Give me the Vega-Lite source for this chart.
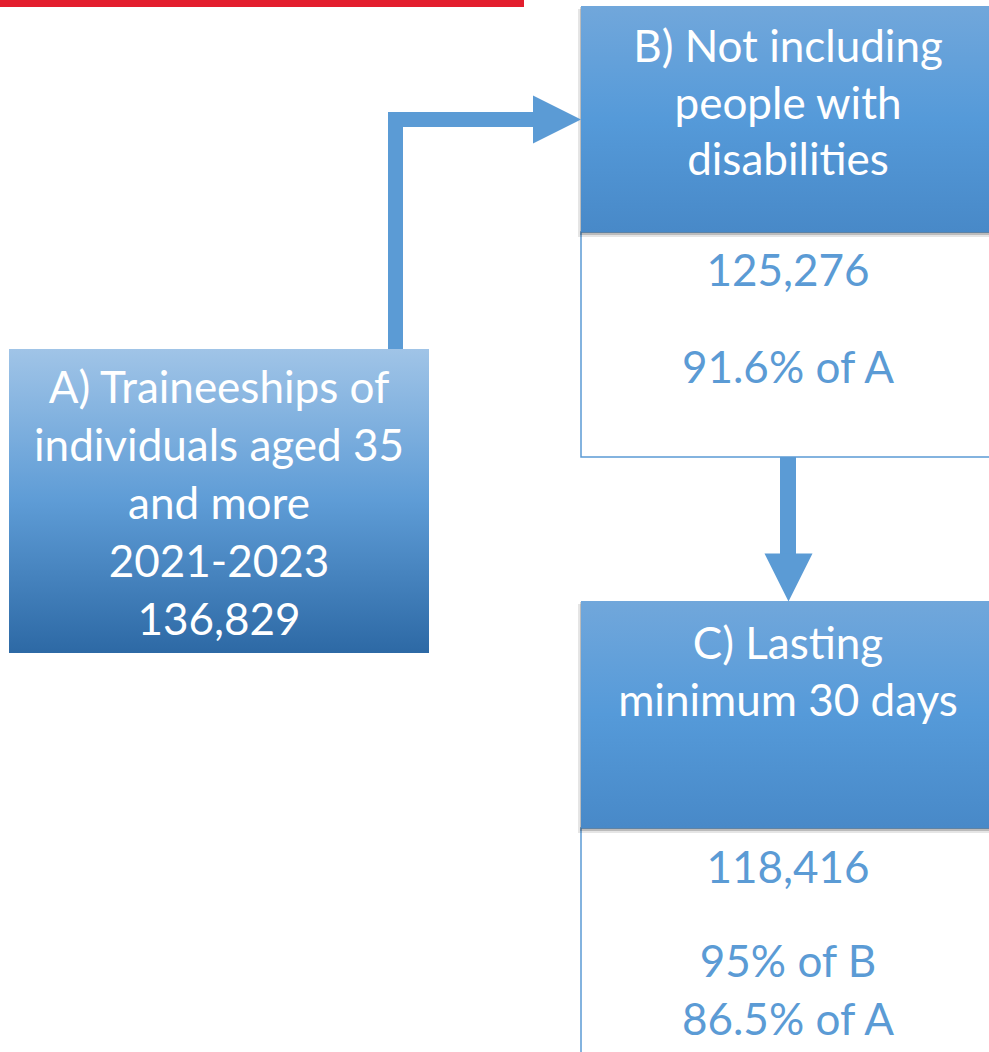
{
  "$schema": "https://vega.github.io/schema/vega-lite/v6.json",
  "width": 989,
  "height": 1052,
  "padding": 0,
  "autosize": {"type": "fit", "contains": "padding"},
  "background": "#ffffff",
  "config": {"view": {"stroke": null}},
  "datasets": {
    "bar": [{"name": "header rule", "x": 0, "x2": 524, "y": 0, "y2": 7}],
    "boxA": [{"step": "A", "x": 9, "x2": 429, "y": 349, "y2": 653}],
    "headers": [
      {"step": "B", "x": 581, "x2": 995, "y": 6, "y2": 232},
      {"step": "C", "x": 581, "x2": 995, "y": 601, "y2": 828}
    ],
    "shadows": [
      {"step": "B", "x": 578, "x2": 995, "y": 9, "y2": 237},
      {"step": "C", "x": 578, "x2": 995, "y": 604, "y2": 833}
    ],
    "bodies": [
      {"step": "B", "x": 581, "x2": 995, "y": 232, "y2": 457},
      {"step": "C", "x": 581, "x2": 995, "y": 828, "y2": 1070}
    ],
    "stems": [
      {"link": "A-B vertical", "x": 388, "x2": 403, "y": 112, "y2": 349},
      {"link": "A-B horizontal", "x": 388, "x2": 534, "y": 112, "y2": 127},
      {"link": "B-C", "x": 780, "x2": 796, "y": 457, "y2": 555}
    ],
    "heads": [
      {"link": "A-B", "dir": "right", "x": 557, "y": 119.5},
      {"link": "B-C", "dir": "down", "x": 788.5, "y": 577.5}
    ],
    "labels": [
      {"role": "header", "text": "A) Traineeships of", "x": 219, "y": 403},
      {"role": "header", "text": "individuals aged 35", "x": 219, "y": 461},
      {"role": "header", "text": "and more", "x": 219, "y": 519},
      {"role": "header", "text": "2021-2023", "x": 219, "y": 577},
      {"role": "header", "text": "136,829", "x": 219, "y": 635},
      {"role": "header", "text": "B) Not including", "x": 788, "y": 62},
      {"role": "header", "text": "people with", "x": 788, "y": 118.5},
      {"role": "header", "text": "disabilities", "x": 788, "y": 175},
      {"role": "body", "text": "125,276", "x": 788, "y": 286},
      {"role": "body", "text": "91.6% of A", "x": 788, "y": 383},
      {"role": "header", "text": "C) Lasting", "x": 788, "y": 659},
      {"role": "header", "text": "minimum 30 days", "x": 788, "y": 716},
      {"role": "body", "text": "118,416", "x": 788, "y": 883},
      {"role": "body", "text": "95% of B", "x": 788, "y": 977},
      {"role": "body", "text": "86.5% of A", "x": 788, "y": 1035}
    ]
  },
  "encoding": {
    "x": {"field": "x", "type": "quantitative", "scale": {"domain": [0, 989], "nice": false, "zero": false}, "axis": null},
    "y": {"field": "y", "type": "quantitative", "scale": {"domain": [0, 1052], "nice": false, "zero": false, "reverse": true}, "axis": null}
  },
  "layer": [
    {
      "data": {"name": "bar"},
      "mark": {"type": "rect", "color": "#E31E2D", "clip": true},
      "encoding": {"x2": {"field": "x2"}, "y2": {"field": "y2"}}
    },
    {
      "data": {"name": "bodies"},
      "mark": {"type": "rect", "fill": "#ffffff", "stroke": "#5B9BD5", "strokeWidth": 1.5, "clip": true},
      "encoding": {"x2": {"field": "x2"}, "y2": {"field": "y2"}}
    },
    {
      "data": {"name": "shadows"},
      "mark": {"type": "rect", "fill": "#000000", "opacity": 0.1, "clip": true},
      "encoding": {"x2": {"field": "x2"}, "y2": {"field": "y2"}}
    },
    {
      "data": {"name": "shadows"},
      "mark": {"type": "rect", "fill": "#000000", "opacity": 0.18, "clip": true, "xOffset": 2, "x2Offset": 0, "yOffset": -2, "y2Offset": -2},
      "encoding": {"x2": {"field": "x2"}, "y2": {"field": "y2"}}
    },
    {
      "data": {"name": "boxA"},
      "mark": {
        "type": "rect",
        "clip": true,
        "color": {
          "gradient": "linear", "x1": 0, "y1": 0, "x2": 0, "y2": 1,
          "stops": [
            {"offset": 0, "color": "#A0C4E7"},
            {"offset": 0.5, "color": "#5E9CD6"},
            {"offset": 1, "color": "#2D69A5"}
          ]
        }
      },
      "encoding": {"x2": {"field": "x2"}, "y2": {"field": "y2"}}
    },
    {
      "data": {"name": "headers"},
      "mark": {
        "type": "rect",
        "clip": true,
        "color": {
          "gradient": "linear", "x1": 0, "y1": 0, "x2": 0, "y2": 1,
          "stops": [
            {"offset": 0, "color": "#71A7DB"},
            {"offset": 0.5, "color": "#559AD9"},
            {"offset": 1, "color": "#4889C8"}
          ]
        }
      },
      "encoding": {"x2": {"field": "x2"}, "y2": {"field": "y2"}}
    },
    {
      "data": {"name": "stems"},
      "mark": {"type": "rect", "color": "#5B9BD5", "clip": true},
      "encoding": {"x2": {"field": "x2"}, "y2": {"field": "y2"}}
    },
    {
      "data": {"name": "heads"},
      "mark": {"type": "point", "filled": true, "opacity": 1, "size": 2304, "strokeWidth": 0, "clip": true},
      "encoding": {
        "shape": {"field": "dir", "type": "nominal", "scale": {"domain": ["right", "down"], "range": ["M-1,-1L1,0L-1,1Z", "M-1,-1L1,-1L0,1Z"]}, "legend": null},
        "color": {"value": "#5B9BD5"}
      }
    },
    {
      "data": {"name": "labels"},
      "mark": {"type": "text", "font": "Lato", "fontSize": 44, "align": "center", "baseline": "alphabetic"},
      "encoding": {
        "text": {"field": "text", "type": "nominal"},
        "color": {"field": "role", "type": "nominal", "scale": {"domain": ["header", "body"], "range": ["#ffffff", "#5B9BD5"]}, "legend": null}
      }
    }
  ]
}
